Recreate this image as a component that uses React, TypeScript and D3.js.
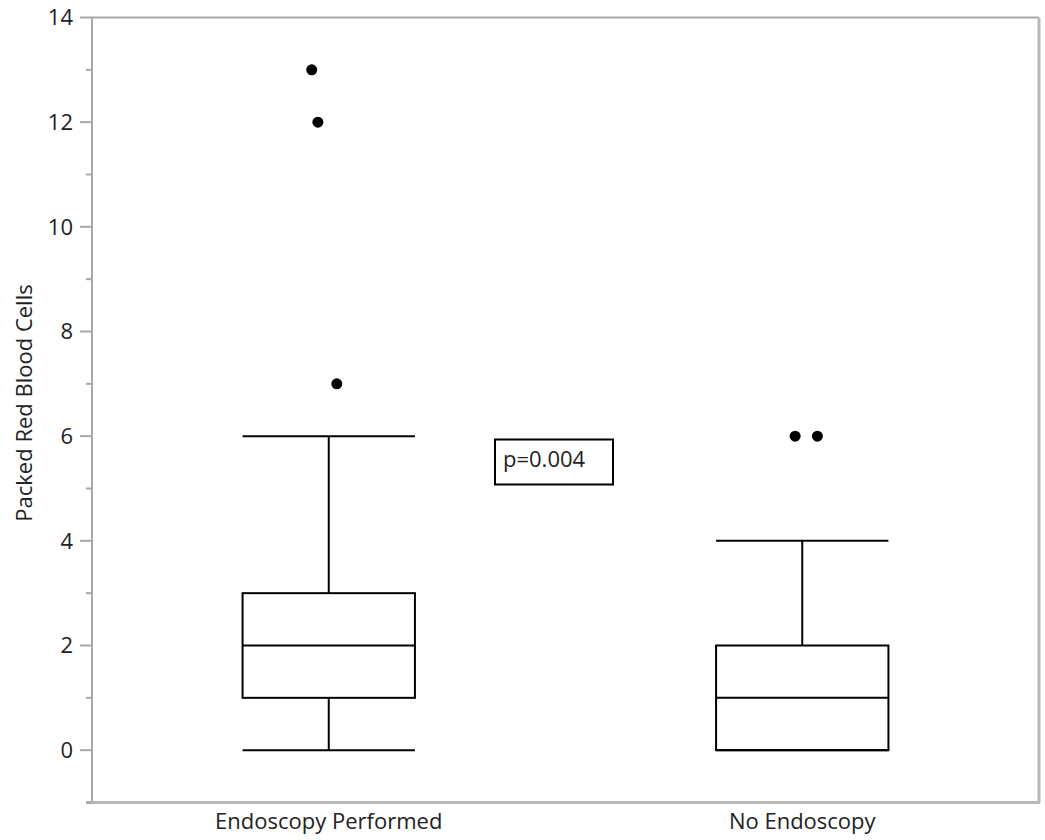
import * as d3 from "d3";
import React from "react";

const WIDTH = 1045;
const HEIGHT = 840;

// groups and their five-number summaries (Packed Red Blood Cells)
const groups = ["Endoscopy Performed", "No Endoscopy"];
const mins = [0, 0];
const q1s = [1, 0];
const medians = [2, 1];
const q3s = [3, 2];
const maxes = [6, 4];

// outliers: group, value, jitter (fraction of band)
const outlierGroup = ["Endoscopy Performed", "Endoscopy Performed", "Endoscopy Performed", "No Endoscopy", "No Endoscopy"];
const outlierValue = [13, 12, 7, 6, 6];
const outlierJitter = [-0.036, -0.023, 0.017, -0.015, 0.032];

const yTicks = [0, 2, 4, 6, 8, 10, 12, 14];
const yMinorTicks = [-1, 1, 3, 5, 7, 9, 11, 13];
const pLabel = "p=0.004";

const FONT = "'Segoe UI', 'Open Sans', 'Noto Sans', sans-serif";

export default function App() {
	const left = 92;
	const right = 1039;
	const top = 17.5;
	const bottom = 802.5;

	const x = d3.scaleBand().domain(groups).range([left, right]).padding(0);
	const y = d3.scaleLinear().domain([-1, 14]).range([bottom, top]);
	const boxW = x.bandwidth() * 0.364;
	const frame = "#a8a8a8";

	return (
		<svg width={WIDTH} height={HEIGHT} style={{ position: "absolute", left: 0, top: 0 }} fontFamily={FONT}>
			{/* frame */}
			<line x1={left} x2={left} y1={top} y2={bottom} stroke={frame} strokeWidth={2} />
			<line x1={left} x2={right} y1={top} y2={top} stroke={frame} strokeWidth={2} />
			<line x1={left - 6} x2={right + 1} y1={bottom} y2={bottom} stroke="#b8b8b8" strokeWidth={3} />
			<line x1={right} x2={right} y1={top} y2={bottom} stroke="#b8b8b8" strokeWidth={3} />

			{yTicks.map((t) => (
				<g key={"t" + t}>
					<line x1={left - 12} x2={left} y1={y(t)} y2={y(t)} stroke={frame} strokeWidth={2} />
					<text x={left - 19} y={y(t)} dy="0.35em" textAnchor="end" fontSize={22} fill="#222">
						{t}
					</text>
				</g>
			))}
			{yMinorTicks.map((t) => (
				<line key={"m" + t} x1={left - 6} x2={left} y1={y(t)} y2={y(t)} stroke={frame} strokeWidth={2} />
			))}

			<text transform={`translate(32,403) rotate(-90)`} textAnchor="middle" fontSize={22} fill="#222">
				Packed Red Blood Cells
			</text>

			{groups.map((g) => (
				<text key={"x" + g} x={x(g)! + x.bandwidth() / 2} y={829} textAnchor="middle" fontSize={22} fill="#222">
					{g}
				</text>
			))}

			{groups.map((g, i) => {
				const cx = x(g)! + x.bandwidth() / 2;
				const x0 = cx - boxW / 2;
				const x1 = cx + boxW / 2;
				return (
					<g key={"b" + g} stroke="#000" strokeWidth={2} fill="none">
						<line x1={cx} x2={cx} y1={y(mins[i])} y2={y(q1s[i])} />
						<line x1={cx} x2={cx} y1={y(q3s[i])} y2={y(maxes[i])} />
						<line x1={x0} x2={x1} y1={y(mins[i])} y2={y(mins[i])} />
						<line x1={x0} x2={x1} y1={y(maxes[i])} y2={y(maxes[i])} />
						<rect x={x0} y={y(q3s[i])} width={boxW} height={y(q1s[i]) - y(q3s[i])} />
						<line x1={x0} x2={x1} y1={y(medians[i])} y2={y(medians[i])} />
					</g>
				);
			})}

			{outlierValue.map((v, i) => {
				const g = outlierGroup[i];
				const cx = x(g)! + x.bandwidth() * (0.5 + outlierJitter[i]);
				return <circle key={"o" + i} cx={cx} cy={y(v)} r={5.5} fill="#000" />;
			})}

			<g>
				<rect x={495} y={439.5} width={118} height={45} fill="#fff" stroke="#000" strokeWidth={2} />
				<text x={503} y={459} dy="0.35em" fontSize={22} fill="#222">
					{pLabel}
				</text>
			</g>
		</svg>
	);
}
